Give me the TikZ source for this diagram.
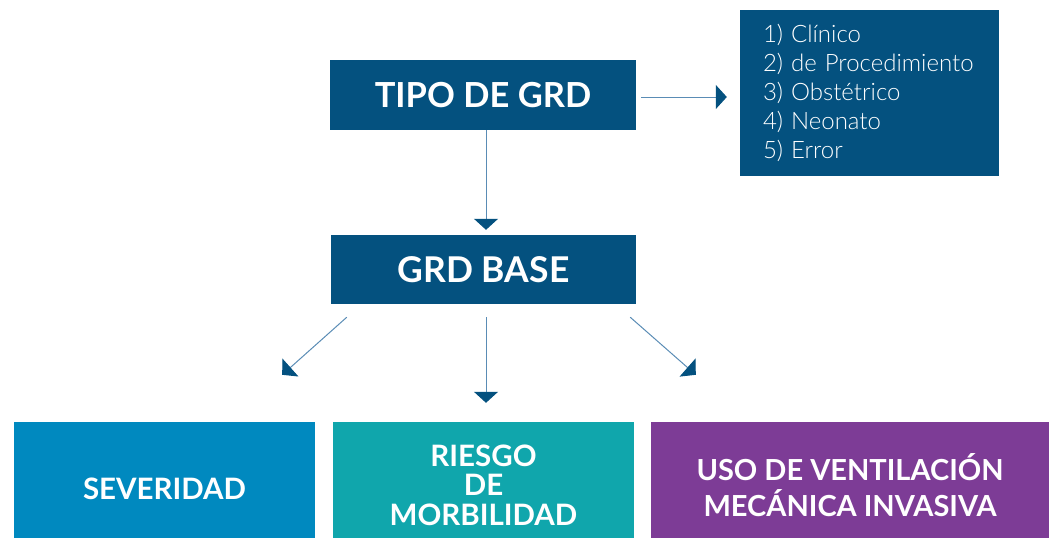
\documentclass[tikz,border=0pt]{standalone}
\usepackage{fontspec}
\setmainfont{Lato}
\newfontfamily\latolight{Lato Light}
\usetikzlibrary{arrows.meta}
\definecolor{dblue}{HTML}{04517F}
\definecolor{lblue}{HTML}{5A8CB5}
\definecolor{sevc}{HTML}{0089BF}
\definecolor{riesc}{HTML}{10A6AC}
\definecolor{usoc}{HTML}{7D3C96}
\tikzset{
  box/.style={fill=#1, text=white, inner sep=0pt, align=center, font=\bfseries},
  arr/.style={draw=lblue, line width=1pt, -{Triangle[width=24pt,length=11pt,color=dblue]}},
}
\newcommand{\lowtext}[2]{\raisebox{-#1}[0pt][0pt]{#2}}
\begin{document}
\begin{tikzpicture}[x=1pt,y=-1pt]
\useasboundingbox (0,0) rectangle (1049,538);
\node[box=dblue, minimum width=306pt, minimum height=70pt, font=\bfseries\fontsize{34.5}{40}\selectfont] (tipo) at (483,95) {TIPO DE GRD};
\node[box=dblue, minimum width=259pt, minimum height=166pt, text width=213pt, inner xsep=23pt, align=left, font=\latolight\fontsize{24}{29}\selectfont] (lista) at (869.5,93) {1) Clínico\\2) de Procedimiento\\3) Obstétrico\\4) Neonato\\5) Error};
\node[box=dblue, minimum width=305pt, minimum height=69pt, font=\bfseries\fontsize{35.5}{40}\selectfont] (base) at (483.5,269.5) {GRD BASE};
\node[box=sevc, minimum width=301pt, minimum height=116pt, font=\bfseries\fontsize{29.5}{28}\selectfont] (sev) at (164.5,480) {\lowtext{19pt}{SEVERIDAD}};
\node[box=riesc, minimum width=301pt, minimum height=116pt, font=\bfseries\fontsize{29.5}{27.5}\selectfont] (ries) at (483.5,480) {\lowtext{15.5pt}{\begin{tabular}{@{}c@{}}RIESGO\\DE\\MORBILIDAD\end{tabular}}};
\node[box=usoc, minimum width=398pt, minimum height=116pt, font=\bfseries\fontsize{29}{28}\selectfont] (uso) at (850,480) {\lowtext{15.5pt}{\begin{tabular}{@{}c@{}}USO DE VENTILACIÓN\\MECÁNICA INVASIVA\end{tabular}}};
\draw[arr] ([xshift=5pt,yshift=-2pt]tipo.east) -- ([xshift=-13pt,yshift=-4pt]lista.west);
\draw[arr] ([xshift=3pt]tipo.south) -- ([xshift=2.5pt,yshift=5pt]base.north);
\draw[arr] ([xshift=2.5pt,yshift=-13pt]base.south) -- ([xshift=2.5pt,yshift=19pt]ries.north);
\draw[arr] ([xshift=16pt,yshift=-13pt]base.south west) -- ([xshift=-33pt,yshift=47pt]sev.north east);
\draw[arr] ([xshift=-6pt,yshift=-13pt]base.south east) -- ([xshift=45pt,yshift=47pt]uso.north west);
\end{tikzpicture}
\end{document}
